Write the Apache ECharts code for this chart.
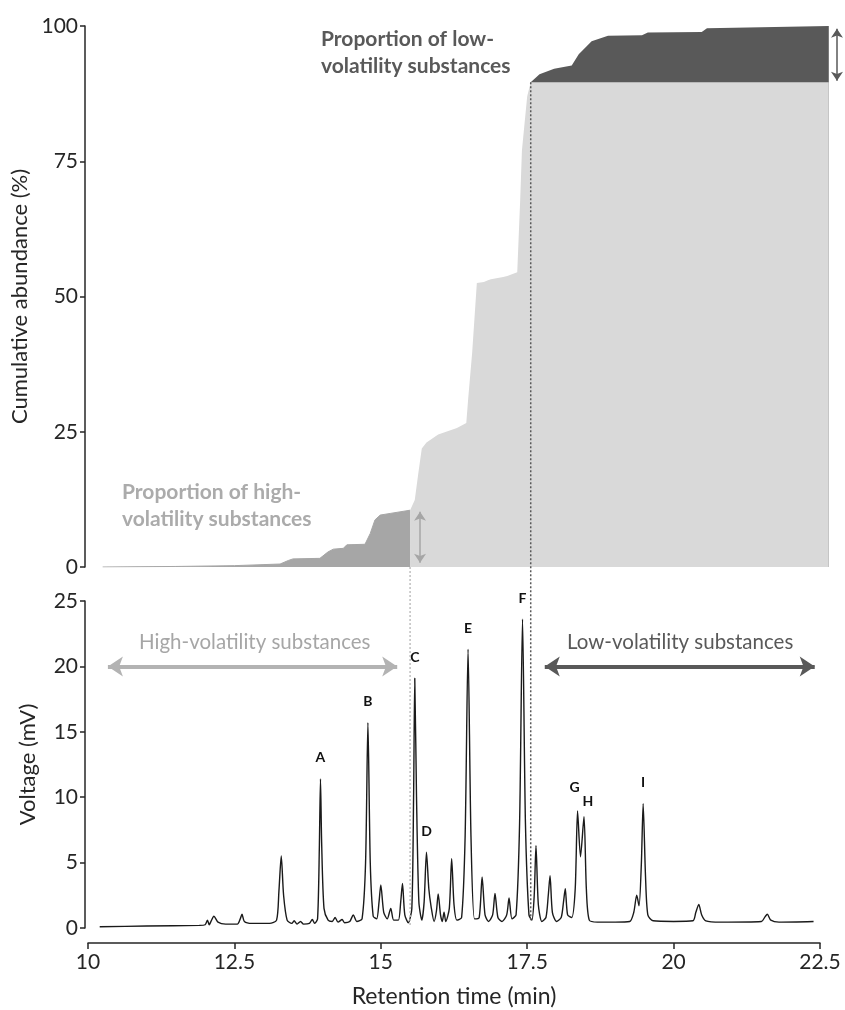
<!DOCTYPE html>
<html>
<head>
<meta charset="utf-8">
<script src="https://cdn.jsdelivr.net/npm/echarts@6/dist/echarts.min.js"></script>
<style>
  html, body { margin: 0; padding: 0; background: #fff; }
  #chart { width: 845px; height: 1010px; }
</style>
</head>
<body>
<div id="chart"></div>
<script>
// cumulative abundance curve (top panel)
const cumTime = [10.25, 11.5, 12.5, 13.28, 13.42, 13.5, 13.96, 14.1, 14.19, 14.36, 14.42, 14.73, 14.82, 14.9, 14.99, 15.16,
  15.5, 15.58, 15.64, 15.7, 15.78, 15.98, 16.3, 16.46, 16.49, 16.56, 16.64, 16.76, 16.83, 16.88, 17.09, 17.16, 17.33,
  17.38, 17.41, 17.5, 17.56, 17.71, 17.96, 18.26, 18.38, 18.6, 18.88, 19.46, 19.56, 20.48, 20.57, 22.65]
const cumPct = [0, 0.1, 0.25, 0.55, 1.2, 1.5, 1.6, 2.8, 3.3, 3.45, 4.1, 4.2, 6.2, 8.7, 9.6, 9.9,
  10.5, 12.4, 17.3, 21.9, 23.0, 24.5, 25.7, 26.6, 30.8, 39.6, 52.5, 52.7, 53.0, 53.2, 53.6, 53.8, 54.5,
  67.8, 77, 87, 89.6, 91.1, 92.1, 92.7, 94.8, 97.2, 98.2, 98.3, 98.8, 98.9, 99.6, 100]

// cut-offs between fractions
const highCut = 15.5
const lowCut = 17.56
const highLevel = 10.5
const lowLevel = 89.6

// chromatogram (bottom panel): [time (min), voltage (mV)]
const chromatogram = [
  [10.2, 0.1], [11.0, 0.15], [11.9, 0.2], [12.0, 0.25], [12.04, 0.6], [12.07, 0.25], [12.1, 0.5], [12.15, 0.9],
  [12.22, 0.45], [12.35, 0.3], [12.55, 0.3], [12.6, 0.7], [12.63, 1.05], [12.67, 0.5], [12.8, 0.35], [13.1, 0.35],
  [13.22, 0.6], [13.26, 2.8], [13.3, 5.5], [13.34, 2.5], [13.4, 0.6], [13.48, 0.35], [13.52, 0.55], [13.57, 0.3],
  [13.63, 0.5], [13.68, 0.3], [13.78, 0.35], [13.83, 0.65], [13.87, 0.35], [13.92, 0.7], [13.95, 6.0], [13.97, 11.4],
  [13.99, 6.5], [14.03, 1.5], [14.1, 0.6], [14.17, 0.5], [14.22, 0.8], [14.27, 0.45], [14.34, 0.65], [14.38, 0.4],
  [14.47, 0.5], [14.53, 1.0], [14.59, 0.5], [14.68, 0.7], [14.74, 5.0], [14.78, 15.7], [14.82, 5.0], [14.87, 0.9],
  [14.93, 0.7], [14.97, 2.0], [15.0, 3.3], [15.05, 1.2], [15.11, 0.7], [15.17, 1.5], [15.22, 0.6], [15.3, 0.6],
  [15.34, 2.0], [15.37, 3.4], [15.41, 1.0], [15.47, 0.4], [15.53, 1.5], [15.56, 10.0], [15.58, 19.1], [15.61, 10.0],
  [15.65, 2.0], [15.7, 0.6], [15.74, 2.0], [15.78, 5.8], [15.82, 3.0], [15.86, 1.6], [15.91, 0.5], [15.95, 1.3],
  [15.98, 2.6], [16.02, 1.0], [16.05, 0.5], [16.08, 1.2], [16.11, 0.5], [16.17, 1.5], [16.21, 5.3], [16.25, 1.8],
  [16.3, 0.6], [16.38, 0.8], [16.44, 7.0], [16.49, 21.3], [16.54, 7.0], [16.6, 0.7], [16.68, 0.8], [16.73, 3.9],
  [16.78, 1.0], [16.84, 0.5], [16.91, 1.0], [16.95, 2.65], [17.0, 0.8], [17.07, 0.5], [17.15, 1.0], [17.19, 2.3],
  [17.24, 0.7], [17.31, 1.0], [17.37, 8.0], [17.42, 23.6], [17.47, 8.0], [17.53, 1.0], [17.58, 0.6], [17.62, 2.5],
  [17.65, 6.3], [17.69, 1.8], [17.75, 0.5], [17.82, 0.8], [17.86, 2.5], [17.89, 4.0], [17.93, 1.2], [18.0, 0.5],
  [18.08, 0.8], [18.12, 2.0], [18.15, 3.0], [18.19, 1.0], [18.26, 0.8], [18.32, 3.0], [18.36, 8.95], [18.41, 5.45],
  [18.47, 8.5], [18.51, 3.0], [18.56, 0.6], [18.7, 0.45], [19.0, 0.45], [19.25, 0.5], [19.32, 1.2], [19.37, 2.5],
  [19.41, 1.7], [19.45, 5.0], [19.48, 9.5], [19.52, 4.0], [19.56, 1.0], [19.65, 0.55], [20.0, 0.5], [20.33, 0.55],
  [20.38, 1.2], [20.43, 1.8], [20.48, 1.0], [20.55, 0.55], [20.8, 0.45], [21.5, 0.5], [21.56, 0.85], [21.6, 1.05],
  [21.66, 0.6], [21.8, 0.45], [22.39, 0.5]
]

// labelled peaks
const peakNames = ['A', 'B', 'C', 'D', 'E', 'F', 'G', 'H', 'I']
const peakTimes = [13.97, 14.78, 15.58, 15.78, 16.49, 17.42, 18.36, 18.47, 19.48]
const peakMv = [11.4, 15.7, 19.1, 5.8, 21.3, 23.6, 8.95, 8.5, 9.5]

const font = 'Lato, "Open Sans", sans-serif'
const ink = '#262626'
const gLight = '#d9d9d9'
const gMid = '#a6a6a6'
const gDark = '#595959'

const cum = cumTime.map((t, i) => [t, cumPct[i]])
const highPart = cum.filter(p => p[0] <= highCut)
const midPart = cum.filter(p => p[0] >= highCut).map(p => [p[0], Math.min(p[1], lowLevel)])
const lowPart = cum.filter(p => p[0] >= lowCut)

// small nudges so G / H labels don't overlap
const labelShift = {G: [-3, -23], H: [4, -15]}

const axisLine = {show: true, onZero: false, lineStyle: {color: ink, width: 1.5}}
const axisTick = {show: true, length: 5, lineStyle: {color: ink, width: 1.5}}
const axisLabel = {fontFamily: font, fontSize: 21, color: ink}
const nameStyle = {fontFamily: font, fontSize: 22, color: ink}

const chart = echarts.init(document.getElementById('chart'))

chart.setOption({
  animation: false,
  textStyle: {fontFamily: font},
  grid: [
    {left: 88, top: 26, width: 752.5, height: 541},
    {left: 88, top: 601, width: 732, height: 327}
  ],
  xAxis: [
    {gridIndex: 0, type: 'value', min: 10, max: 22.85, show: false},
    {
      gridIndex: 1, type: 'value', min: 10, max: 22.5, interval: 2.5, offset: 15,
      axisLine: axisLine, axisTick: {show: true, length: 6, lineStyle: {color: ink, width: 1.5}},
      axisLabel: Object.assign({margin: 9}, axisLabel),
      splitLine: {show: false},
      name: 'Retention time (min)', nameLocation: 'middle', nameGap: 42,
      nameTextStyle: Object.assign({}, nameStyle, {fontSize: 23})
    }
  ],
  yAxis: [
    {
      gridIndex: 0, type: 'value', min: 0, max: 100, interval: 25, offset: 3,
      axisLine: axisLine, axisTick: axisTick, axisLabel: Object.assign({margin: 7}, axisLabel),
      splitLine: {show: false},
      name: 'Cumulative abundance (%)', nameLocation: 'middle', nameGap: 46, nameTextStyle: nameStyle
    },
    {
      gridIndex: 1, type: 'value', min: 0, max: 25, interval: 5, offset: 3,
      axisLine: axisLine, axisTick: axisTick, axisLabel: Object.assign({margin: 7}, axisLabel),
      splitLine: {show: false},
      name: 'Voltage (mV)', nameLocation: 'middle', nameGap: 46, nameTextStyle: nameStyle
    }
  ],
  series: [
    {
      name: 'high', type: 'line', xAxisIndex: 0, yAxisIndex: 0, data: highPart, symbol: 'none', z: 2,
      lineStyle: {color: gMid, width: 1}, areaStyle: {color: gMid, opacity: 1},
      markLine: {
        silent: true, symbol: ['arrow', 'arrow'], symbolSize: 9, label: {show: false},
        lineStyle: {color: gMid, width: 1.5, type: 'solid'},
        data: [[{coord: [15.67, highLevel - 0.3]}, {coord: [15.67, 0.8]}]]
      }
    },
    {
      name: 'low', type: 'line', xAxisIndex: 0, yAxisIndex: 0, data: lowPart, symbol: 'none', z: 2,
      lineStyle: {width: 0}, areaStyle: {color: gDark, opacity: 1},
      markLine: {
        silent: true, symbol: ['arrow', 'arrow'], symbolSize: 9, label: {show: false},
        lineStyle: {color: gDark, width: 1.5, type: 'solid'},
        data: [[{coord: [22.79, 99.5]}, {coord: [22.79, lowLevel + 0.3]}]]
      }
    },
    {
      name: 'mid', type: 'line', xAxisIndex: 0, yAxisIndex: 0, data: midPart, symbol: 'none', z: 3,
      lineStyle: {width: 0}, areaStyle: {color: gLight, opacity: 1}
    },
    {
      name: 'chromatogram', type: 'line', xAxisIndex: 1, yAxisIndex: 1, data: chromatogram,
      symbol: 'none', z: 4, smooth: 0.25,
      lineStyle: {color: '#1a1a1a', width: 1.4},
      markPoint: {
        symbol: 'circle', symbolSize: 0, silent: true,
        label: {show: true, position: 'inside', fontFamily: font, fontSize: 14, fontWeight: 'bold', color: '#111'},
        data: peakNames.map((n, i) => ({
          name: n, value: n, coord: [peakTimes[i], peakMv[i]],
          label: {formatter: n, offset: labelShift[n] || [0, -21]}
        }))
      },
      markLine: {
        silent: true, symbol: ['arrow', 'arrow'], symbolSize: 15, label: {show: false},
        data: [
          [{coord: [10.34, 20], lineStyle: {color: '#b3b3b3', width: 4, type: 'solid'}}, {coord: [15.28, 20]}],
          [{coord: [17.8, 20], lineStyle: {color: gDark, width: 4, type: 'solid'}}, {coord: [22.41, 20]}]
        ]
      }
    }
  ]
})

// dotted separators run across both panels, so place them from the two scales
const h0 = chart.convertToPixel({gridIndex: 0}, [highCut, 0])
const h1 = chart.convertToPixel({gridIndex: 1}, [highCut, 0.2])
const l0 = chart.convertToPixel({gridIndex: 0}, [lowCut, lowLevel])
const l1 = chart.convertToPixel({gridIndex: 1}, [lowCut, 0.5])

const boldText = {fontFamily: font, fontSize: 21, fontWeight: 'bold', lineHeight: 27}
const plainText = {fontFamily: font, fontSize: 20.5}

chart.setOption({
  graphic: [
    {
      type: 'line', z: 10, silent: true,
      shape: {x1: h0[0], y1: h0[1], x2: h1[0], y2: h1[1]},
      style: {stroke: '#bfbfbf', lineWidth: 1.5, lineDash: [2, 2]}
    },
    {
      type: 'line', z: 10, silent: true,
      shape: {x1: l0[0], y1: l0[1], x2: l1[0], y2: l1[1]},
      style: {stroke: gDark, lineWidth: 1.5, lineDash: [2, 2]}
    },
    {
      type: 'text', left: 321, top: 26, z: 10,
      style: Object.assign({text: 'Proportion of low-\nvolatility substances', fill: gDark}, boldText)
    },
    {
      type: 'text', left: 122, top: 479, z: 10,
      style: Object.assign({text: 'Proportion of high-\nvolatility substances', fill: '#ababab'}, boldText)
    },
    {
      type: 'text', left: 139, top: 632, z: 10,
      style: Object.assign({text: 'High-volatility substances', fill: '#a6a6a6'}, plainText)
    },
    {
      type: 'text', left: 567, top: 632, z: 10,
      style: Object.assign({text: 'Low-volatility substances', fill: gDark}, plainText)
    }
  ]
})
</script>
</body>
</html>
